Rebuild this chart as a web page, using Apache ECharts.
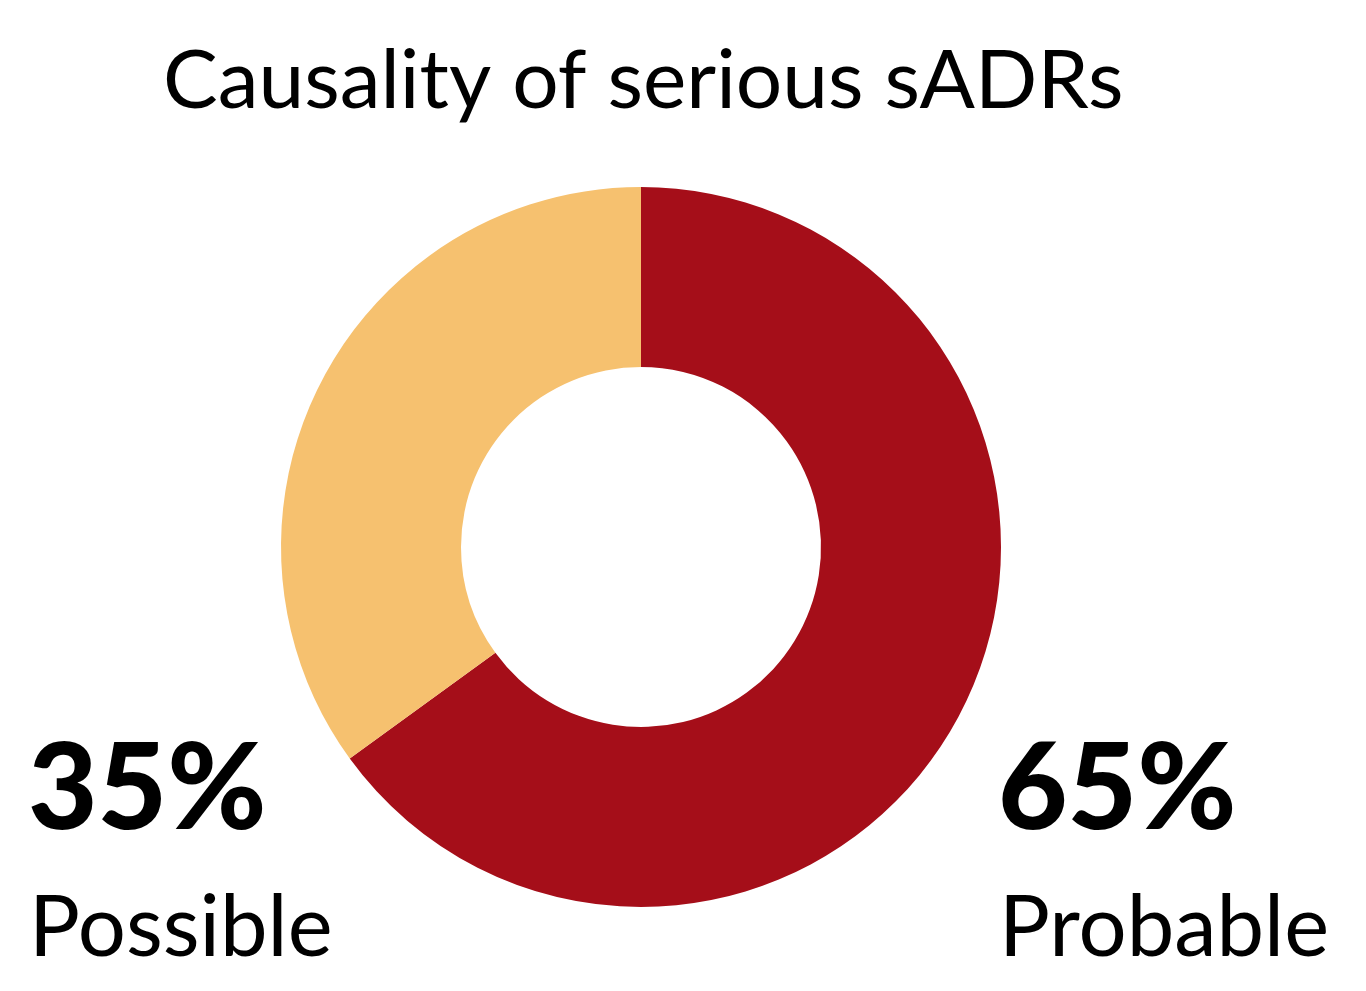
<!DOCTYPE html>
<html>
<head>
<meta charset="utf-8">
<script src="https://cdn.jsdelivr.net/npm/echarts@6/dist/echarts.min.js"></script>
<style>
  html, body { margin: 0; padding: 0; background: #fff; }
  #chart { width: 1366px; height: 991px; }
</style>
</head>
<body>
<div id="chart"></div>
<script>
var categories = ['Probable', 'Possible'];
var values = [65, 35];
var colors = ['#A50E19', '#F6C16F'];
var titleText = 'Causality of serious sADRs';

var chart = echarts.init(document.getElementById('chart'));

var pieData = categories.map(function (name, i) {
  return { name: name, value: values[i], itemStyle: { color: colors[i] } };
});

// percent + name text on each side, left for Possible, right for Probable
var labelX = { Possible: 28, Probable: 998 };
var graphics = [];
categories.forEach(function (name, i) {
  graphics.push({
    type: 'text', left: labelX[name], top: 730,
    style: { text: values[i] + '%', font: '900 120px Lato', fill: '#000' }
  });
  graphics.push({
    type: 'text', left: labelX[name] + 1, top: 886,
    style: { text: name, font: '400 85px Lato', fill: '#000' }
  });
});

chart.setOption({
  backgroundColor: '#fff',
  title: {
    text: titleText,
    left: 158,
    top: 36,
    textStyle: { fontFamily: 'Lato', fontWeight: 400, fontSize: 82, color: '#000' }
  },
  graphic: graphics,
  series: [{
    type: 'pie',
    center: [641, 547],
    radius: [180, 360],
    startAngle: 90,
    clockwise: true,
    silent: true,
    label: { show: false },
    labelLine: { show: false },
    data: pieData
  }]
});
</script>
</body>
</html>
